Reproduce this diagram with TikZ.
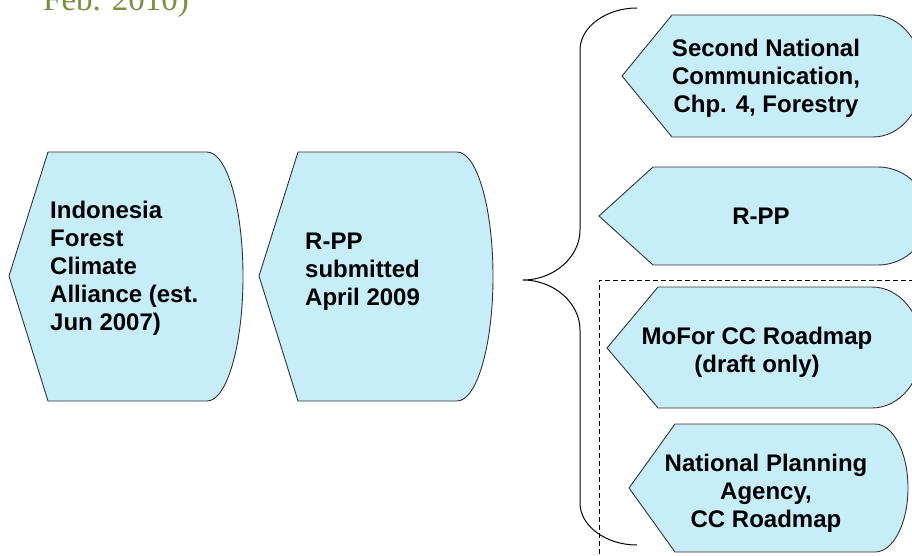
\documentclass[tikz,border=0pt]{standalone}
\usepackage{fontspec}
\setmainfont{Liberation Sans}
\newfontfamily\titlefont{Liberation Serif}
\usepackage{tikz}
\usetikzlibrary{positioning}
\definecolor{mcyan}{RGB}{198, 237, 248}
\definecolor{mgreen}{RGB}{118, 146, 60}
\tikzset{display/.style = {draw=black!80, line width=0.9pt, fill=mcyan},
         boxtext/.style = {font=\fontsize{24}{28}\selectfont\bfseries, inner sep=0pt}}

\begin{document}
\begin{tikzpicture}[x=1pt, y=-1pt]
      \useasboundingbox (0, 0) rectangle (912, 556);
      \clip (0, 0) rectangle (912, 556);
      \node [anchor=base west, inner sep=0pt, text=mgreen, font=\titlefont\fontsize{33}{36}\selectfont] (date) at (43, 11) {Feb. 2010)};
      \draw [display] (9, 276) -- (48, 152) -- (207, 152) arc [start angle=-90, end angle=90, x radius=36, y radius=124.5] -- (48, 401) -- cycle;
      \draw [display] (259, 276) -- (298, 152) -- (457, 152) arc [start angle=-90, end angle=90, x radius=36, y radius=124.5] -- (298, 401) -- cycle;
      \draw [display] (622, 76) -- (672, 15) -- (873, 15) arc [start angle=-90, end angle=90, x radius=50, y radius=61] -- (672, 137) -- cycle;
      \draw [display] (599, 216) -- (653, 167) -- (878, 167) arc [start angle=-90, end angle=90, x radius=50, y radius=49] -- (653, 265) -- cycle;
      \draw [display] (607, 348) -- (658, 287) -- (872, 287) arc [start angle=-90, end angle=90, x radius=50, y radius=60.5] -- (658, 408) -- cycle;
      \draw [display] (629, 488) -- (675, 424) -- (875, 424) arc [start angle=-90, end angle=90, x radius=33, y radius=64] -- (675, 552) -- cycle;
      \node [boxtext, anchor=west, align=left] (alliance) at (50, 268) {Indonesia\\Forest\\Climate\\Alliance (est.\\Jun 2007)};
      \node [boxtext, anchor=west, align=left] (submitted) at (305, 272) {R-PP\\submitted\\April 2009};
      \node [boxtext, align=center] (natcom) at (766, 78) {Second National\\Communication,\\Chp. 4, Forestry};
      \node [boxtext] (rpp) at (761, 216) {R-PP};
      \node [boxtext, align=center] (mofor) at (757, 352) {MoFor CC Roadmap\\(draft only)};
      \node [boxtext, align=center] (planning) at (766, 493) {National Planning\\Agency,\\CC Roadmap};
      \draw [line width=1pt] (637, 8) .. controls (606, 8) and (580, 27) .. (580, 50) -- (580, 230)
            .. controls (580, 257) and (554, 280) .. (523, 280)
            .. controls (554, 280) and (580, 303) .. (580, 330) -- (580, 503)
            .. controls (580, 526) and (606, 545) .. (637, 545);
      \draw [line width=1pt, dash pattern=on 5pt off 3pt] (930, 280) -- (599, 280) -- (599, 570);
    \end{tikzpicture}
\end{document}
